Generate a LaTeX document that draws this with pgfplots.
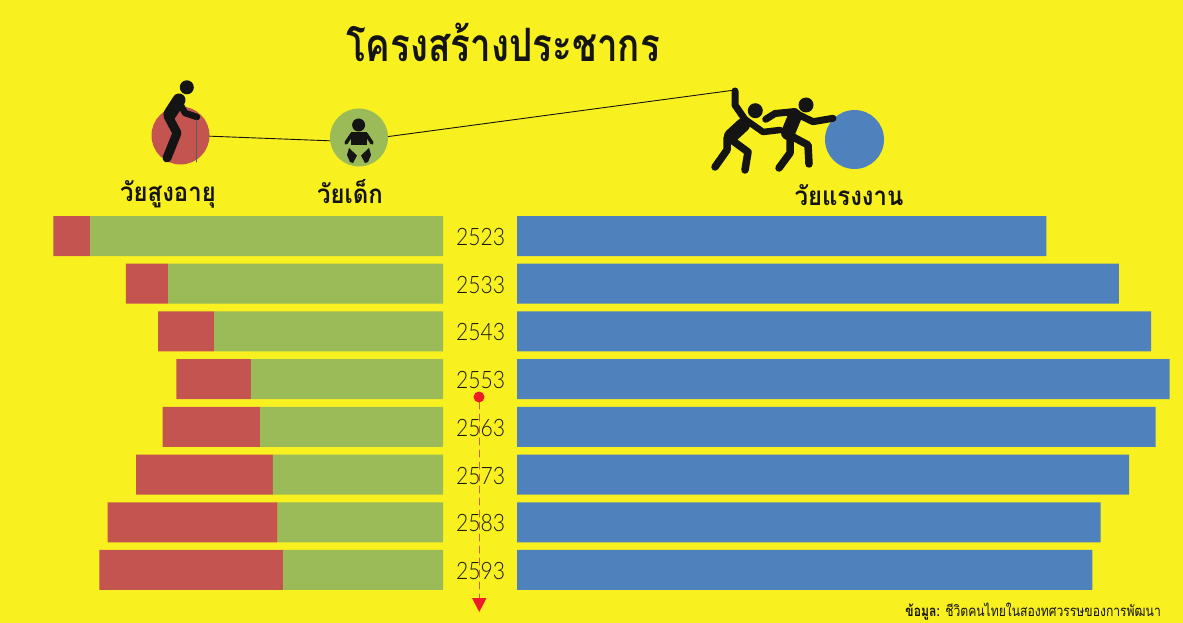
\documentclass[border=0pt]{standalone}
\usepackage{pgfplots}
\usepackage{pgfplotstable}
\usepackage{fontspec}
\pgfplotsset{compat=1.18}
\setmainfont{Liberation Sans}
\newfontfamily\thaifont[Script=Thai]{Loma}
\newfontfamily\thaititle[Script=Thai,FakeStretch=0.8]{Loma}
\newfontfamily\thailabel[Script=Thai,FakeStretch=0.92]{Loma}
\newfontfamily\thaisrc[Script=Thai,FakeStretch=0.81]{Loma}
\newfontfamily\yearfont[FakeStretch=0.88]{Lato Light}
\definecolor{bgy}{RGB}{249,240,32}
\definecolor{cblue}{RGB}{79,129,189}
\definecolor{cred}{RGB}{196,84,80}
\definecolor{cgreen}{RGB}{155,187,89}
\definecolor{ink}{RGB}{20,20,20}
\definecolor{redmk}{RGB}{238,28,37}
\definecolor{dashc}{RGB}{205,95,45}
\pgfplotstableread{
idx year child old work
0 2523 38.4 4.0 57.6
1 2533 29.9 4.6 65.5
2 2543 24.9 6.1 69.0
3 2553 20.9 8.1 71.0
4 2563 19.9 10.6 69.5
5 2573 18.5 14.9 66.6
6 2583 18.0 18.5 63.5
7 2593 17.4 20.0 62.6
}\popdata
\begin{document}
\begin{tikzpicture}[x=1pt,y=-1pt,line cap=round,line join=round]
\useasboundingbox (0,0) rectangle (1183,623);
\clip (0,0) rectangle (1183,623);
\fill[bgy] (0,0) rectangle (1183,623);
% arrow line, behind the year labels
\draw[dashc,line width=1pt,dash pattern=on 7pt off 5pt] (479,402) -- (479,600);
% left bars: child + elderly
\begin{axis}[at={(443pt,-212.15pt)},anchor=north east,scale only axis,
  width=443pt,height=381.7pt,xmin=0,xmax=48.2,ymin=-0.5,ymax=7.5,
  x dir=reverse,y dir=reverse,xbar stacked,bar width=40pt,
  hide axis,clip=false]
\addplot[fill=cgreen,draw=none] table[x=child,y=idx]{\popdata};
\addplot[fill=cred,draw=none] table[x=old,y=idx]{\popdata};
\end{axis}
% right bars: working age and year labels
\begin{axis}[at={(517pt,-212.15pt)},anchor=north west,scale only axis,
  width=666pt,height=381.7pt,xmin=0,xmax=72.47,ymin=-0.5,ymax=7.5,
  y dir=reverse,xbar,bar width=40pt,
  axis line style={draw=none},xtick=\empty,major tick length=0pt,
  ytick={0,1,2,3,4,5,6,7},
  yticklabels={2523,2533,2543,2553,2563,2573,2583,2593},
  yticklabel style={font=\yearfont\fontsize{24}{24}\selectfont,text=black!90,anchor=center,xshift=-36.5pt,yshift=-1pt,
    inner sep=0pt},
  clip=false]
\addplot[fill=cblue,draw=none] table[x=work,y=idx]{\popdata};
\end{axis}
% connector lines
\draw[ink,line width=0.9pt] (205,136) -- (335,141);
\draw[ink,line width=0.9pt] (385,137) -- (735,90);
% circles
\fill[cred] (180.5,135.5) circle (29);
\fill[cgreen] (359,137.5) circle (29);
\fill[cblue] (854.5,139.5) circle (29.5);
% elderly figure
\fill[ink] (186.8,87.3) circle (7);
\draw[ink,line width=13pt] (179,100) -- (170,114);
\draw[ink,line width=9pt] (168,116) -- (177,133) -- (167,158);
\draw[ink,line width=6.5pt] (178,100) -- (185,113) -- (197,117);
\draw[ink!70,line width=1pt] (196,120) -- (196,162);
% baby figure
\fill[ink] (358.6,125) circle (6.5);
\fill[ink] (351,132) rectangle (367,145);
\draw[ink,line width=3.5pt] (352,134) -- (346,143);
\draw[ink,line width=3.5pt] (366,134) -- (372,143);
\fill[ink] (349,148) -- (357,155.5) -- (353,163) -- (350,162) -- (347,155) -- cycle;
\fill[ink] (369,148) -- (361,155.5) -- (365,163) -- (368,162) -- (371,155) -- cycle;
% working figures
\fill[ink] (755.3,110.7) circle (7.5);
\draw[ink,line width=7pt] (735,91) -- (735,105) -- (746,121);
\draw[ink,line width=14pt] (743,125) -- (731,136);
\draw[ink,line width=7.5pt] (727,138) -- (727,150) -- (715,167);
\draw[ink,line width=7.5pt] (733,141) -- (748,152) -- (745,170);
\draw[ink,line width=6.5pt] (746,120) -- (763,132) -- (780,130);
\fill[ink] (806,105) circle (7.5);
\draw[ink,line width=14pt] (795,116) -- (788,133);
\draw[ink,line width=7pt] (795,111.5) -- (775,113.5) -- (765.7,119.3);
\draw[ink,line width=7pt] (795,113) -- (813,121.7) -- (833,118.3);
\draw[ink,line width=7.5pt] (790,136) -- (790,153) -- (779,168);
\draw[ink,line width=7.5pt] (793,137) -- (808,145) -- (809,164);
% arrow ends
\fill[redmk] (479,397) circle (5.5);
\fill[redmk] (472,598) -- (486.5,598) -- (479.3,612) -- cycle;
% texts
\node[anchor=base,inner sep=0pt,text=ink] at (503,62) {\thaititle\bfseries\fontsize{46}{46}\selectfont โครงสร้างประชากร};
\node[anchor=base,inner sep=0pt,text=ink] at (168,201) {\thailabel\bfseries\fontsize{26}{26}\selectfont วัยสูงอายุ};
\node[anchor=base,inner sep=0pt,text=ink] at (350,203) {\thailabel\bfseries\fontsize{26}{26}\selectfont วัยเด็ก};
\node[anchor=base,inner sep=0pt,text=ink] at (849,205) {\thailabel\bfseries\fontsize{26}{26}\selectfont วัยแรงงาน};
\node[anchor=base east,inner sep=0pt,text=ink] at (1161,616.5) {\thaisrc\fontsize{15}{15}\selectfont {\bfseries ข้อมูล:} ชีวิตคนไทยในสองทศวรรษของการพัฒนา};
\end{tikzpicture}
\end{document}
